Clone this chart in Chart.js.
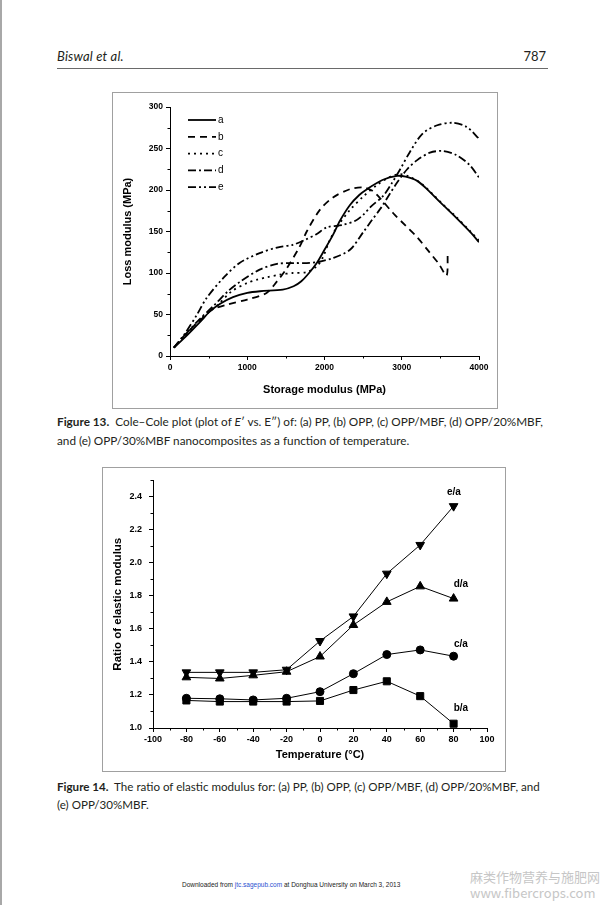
<!DOCTYPE html>
<html><head><meta charset="utf-8">
<script src="https://cdn.jsdelivr.net/npm/chart.js@4.4.0/dist/chart.umd.min.js"></script>
<style>
html,body{margin:0;padding:0;background:#fff;}
body{width:603px;height:905px;position:relative;overflow:hidden;font-family:Lato,"Open Sans",sans-serif;color:#231f20;}
.abs{position:absolute;white-space:nowrap;}
#edge{left:0;top:0;width:2px;height:905px;background:#a8a8a8;}
#hdrL{left:57px;top:48px;font-style:italic;font-size:13px;letter-spacing:0.2px;}
#hdrR{left:500px;width:46px;text-align:right;top:48px;font-size:13px;}
#rule{left:57px;top:68px;width:491px;height:1px;background:#6a6a6a;}
.box{border:1px solid #a0a0a0;box-sizing:border-box;}
#box1{left:112px;top:92px;width:386px;height:317px;}
#box2{left:102px;top:467px;width:404px;height:305px;}
#c1{left:113px;top:93px;}
#c2{left:103px;top:468px;}
.cap{left:57px;font-size:11.75px;line-height:19px;}
#cap1{top:412px;}
#cap2{top:778px;line-height:18px;font-size:11.6px;}
.cap b{font-weight:700;}
#foot{left:182px;top:881px;font-family:"Liberation Sans",Arial,sans-serif;font-size:6.5px;color:#222;}
#foot span{color:#2b4fd0;}
#wm{left:470px;top:869px;font-family:"Noto Sans CJK SC","Liberation Sans",sans-serif;font-size:13px;line-height:16px;color:#c6c6c6;}
</style></head>
<body>
<div id="edge" class="abs"></div>
<div id="hdrL" class="abs">Biswal et al.</div>
<div id="hdrR" class="abs">787</div>
<div id="rule" class="abs"></div>
<div id="box1" class="abs box"></div>
<div id="box2" class="abs box"></div>
<canvas id="c1" class="abs" width="384" height="315"></canvas>
<canvas id="c2" class="abs" width="402" height="303"></canvas>
<div id="cap1" class="abs cap"><b>Figure 13.</b>&nbsp; Cole–Cole plot (plot of <i>E</i>′ vs. E″) of: (a) PP, (b) OPP, (c) OPP/MBF, (d) OPP/20%MBF,<br>and (e) OPP/30%MBF nanocomposites as a function of temperature.</div>
<div id="cap2" class="abs cap"><b>Figure 14.</b>&nbsp; The ratio of elastic modulus for: (a) PP, (b) OPP, (c) OPP/MBF, (d) OPP/20%MBF, and<br>(e) OPP/30%MBF.</div>
<div id="foot" class="abs">Downloaded from <span>jtc.sagepub.com</span> at Donghua University on March 3, 2013</div>
<div id="wm" class="abs">麻类作物营养与施肥网<br>www.fibercrops.com</div>
<script>
// ---------- Figure 13 data: [storage modulus, loss modulus] (MPa) ----------
const curveA = [[50,10],[200,23],[400,42],[520,54],[650,63],[815,71],[1000,76],[1165,78],[1460,80],[1600,84],[1700,90],[1800,100],[1900,112],[2000,128],[2110,146],[2200,163],[2330,182],[2450,194],[2550,201],[2750,212],[2940,217],[3050,216],[3200,211],[3350,199],[3500,185],[3700,167],[3900,148],[4000,137]];
const curveB = [[50,10],[200,26],[400,44],[550,56],[740,62],[1000,68],[1250,76],[1385,90],[1500,104],[1680,132],[1770,150],[1940,176],[2110,191],[2330,201],[2500,203],[2620,199],[2720,190],[2890,172],[3050,157],[3200,143],[3350,126],[3480,111],[3580,97],[3595,125]];
const curveC = [[50,10],[200,25],[400,45],[600,60],[800,78],[1000,88],[1130,92],[1260,95],[1420,98],[1590,100],[1770,101],[1900,108],[1980,119],[2060,138],[2160,155],[2330,176],[2500,192],[2680,206],[2850,216],[2980,219],[3100,216],[3250,208],[3400,195],[3550,181],[3700,168],[3900,149],[4000,139]];
const curveD = [[50,10],[200,26],[400,46],[560,60],[750,78],[900,89],[1160,104],[1385,111],[1600,112],[1770,112],[1900,113],[2110,118],[2330,128],[2500,149],[2600,162],[2720,177],[2850,196],[2940,209],[3070,225],[3200,236],[3365,245],[3530,247],[3710,242],[3880,230],[4000,215]];
const curveE = [[50,10],[200,28],[350,50],[475,70],[700,95],[900,112],[1160,124],[1400,131],[1590,134],[1750,140],[1900,147],[2030,155],[2240,158],[2400,163],[2500,170],[2600,180],[2760,193],[2870,208],[2980,225],[3100,245],[3270,268],[3460,278],[3660,281],[3840,276],[3985,263],[4000,260]];
const coleLabels = ['a','b','c','d','e'];

// ---------- Figure 14 data ----------
const temps = [-80,-60,-40,-20,0,20,40,60,80];
const ratioBA = [1.167,1.160,1.160,1.160,1.164,1.230,1.283,1.193,1.026];
const ratioCA = [1.180,1.177,1.170,1.180,1.220,1.329,1.445,1.473,1.435];
const ratioDA = [1.307,1.300,1.319,1.341,1.433,1.624,1.764,1.858,1.784];
const ratioEA = [1.337,1.337,1.337,1.353,1.527,1.676,1.935,2.109,2.344];
const ratioLabels = ['b/a','c/a','d/a','e/a'];

const F = "'Liberation Sans', Arial, sans-serif";

const minorTicks = {
  id:'minorTicks',
  afterDraw(chart){
    const ctx = chart.ctx;
    ctx.save();
    ctx.strokeStyle = '#000'; ctx.lineWidth = 1;
    Object.values(chart.scales).forEach(s=>{
      const m = s.options.minorStep; if(!m) return;
      const n = Math.round((s.max - s.min)/m);
      for(let i=0;i<=n;i++){
        if(i % 2 === 0) continue;
        const v = s.min + i*m;
        const p = Math.round(s.getPixelForValue(v)) + 0.5;
        ctx.beginPath();
        if(s.isHorizontal()){ ctx.moveTo(p, s.top); ctx.lineTo(p, s.top+2.5); }
        else { ctx.moveTo(s.right, p); ctx.lineTo(s.right-2.5, p); }
        ctx.stroke();
      }
    });
    ctx.restore();
  }
};

function axis(opts){
  return Object.assign({
    type:'linear',
    border:{display:true,color:'#000',width:1},
    grid:{display:true,drawOnChartArea:false,drawTicks:true,tickLength:4,tickColor:'#000',tickWidth:1},
  }, opts);
}

// ---------- Chart 1 ----------
const dashes = [[],[7,5],[2,4],[8,3,2,3],[8,3,2,3,2,3]];
const coleSets = [curveA,curveB,curveC,curveD,curveE].map((c,i)=>({
  label: coleLabels[i],
  data: c.map(p=>({x:p[0],y:p[1]})),
  borderColor:'#000', borderWidth:1.8, borderDash:dashes[i],
  pointRadius:0, tension:0.3, fill:false
}));

const coleLegend = {
  id:'coleLegend',
  afterDraw(chart){
    const ctx = chart.ctx, a = chart.chartArea;
    ctx.save();
    chart.data.datasets.forEach((d,i)=>{
      const y = a.top + 13 + i*16.8;
      ctx.strokeStyle='#000'; ctx.lineWidth=1.8; ctx.setLineDash(d.borderDash);
      ctx.beginPath(); ctx.moveTo(a.left+18, y); ctx.lineTo(a.left+46, y); ctx.stroke();
      ctx.setLineDash([]);
      ctx.fillStyle='#000'; ctx.font = "10px "+F; ctx.textBaseline='middle'; ctx.textAlign='left';
      ctx.fillText(d.label, a.left+48, y);
    });
    ctx.restore();
  }
};

new Chart(document.getElementById('c1'), {
  type:'line',
  data:{datasets:coleSets},
  plugins:[minorTicks, coleLegend],
  options:{
    responsive:false, animation:false,
    layout:{padding:{left:0,right:18,top:14,bottom:0}},
    plugins:{legend:{display:false},tooltip:{enabled:false}},
    scales:{
      x: axis({min:0,max:4000,minorStep:500,
        ticks:{stepSize:1000,padding:3,color:'#000',font:{family:F,size:8.5,weight:'bold'},maxRotation:0,callback:v=>String(v)},
        title:{display:true,text:'Storage modulus (MPa)',color:'#000',font:{family:F,size:11,weight:'bold'},padding:{top:0,bottom:11}},
        afterFit(s){s.height=52;}}),
      y: axis({min:0,max:300,minorStep:25,
        ticks:{stepSize:50,padding:3,color:'#000',font:{family:F,size:8.5,weight:'bold'},callback:v=>String(v)},
        title:{display:true,text:'Loss modulus (MPa)',color:'#000',font:{family:F,size:11,weight:'bold'},padding:{top:8.4,bottom:0}},
        afterFit(s){s.width=57;}})
    }
  }
});

// ---------- Chart 2 ----------
const ratioLabelPos = [[84.4,1.12],[84.4,1.51],[84.4,1.87],[80.2,2.43]];
const ratioText = {
  id:'ratioText',
  afterDraw(chart){
    const ctx = chart.ctx, xs = chart.scales.x, ys = chart.scales.y;
    ctx.save();
    ctx.fillStyle='#000'; ctx.font="bold 10px "+F; ctx.textAlign='center'; ctx.textBaseline='middle';
    ratioLabels.forEach((t,i)=>{
      ctx.fillText(t, xs.getPixelForValue(ratioLabelPos[i][0]), ys.getPixelForValue(ratioLabelPos[i][1]));
    });
    ctx.restore();
  }
};
const styles = [['rect',5,0],['circle',4,0],['triangle',5,0],['triangle',5,180]];
const ratioSets = [ratioBA,ratioCA,ratioDA,ratioEA].map((r,i)=>({
  label: ratioLabels[i],
  data: temps.map((t,j)=>({x:t,y:r[j]})),
  borderColor:'#000', borderWidth:1, backgroundColor:'#000',
  pointStyle:styles[i][0], pointRadius:styles[i][1], pointRotation:styles[i][2],
  pointBorderWidth:1, tension:0, fill:false
}));

new Chart(document.getElementById('c2'), {
  type:'line',
  data:{datasets:ratioSets},
  plugins:[minorTicks, ratioText],
  options:{
    responsive:false, animation:false,
    layout:{padding:{left:0,right:18,top:10,bottom:0}},
    plugins:{legend:{display:false},tooltip:{enabled:false}},
    scales:{
      x: axis({min:-100,max:100,minorStep:10,
        ticks:{stepSize:20,padding:2,color:'#000',font:{family:F,size:9,weight:'bold'},maxRotation:0,autoSkip:false,callback:v=>String(v)},
        title:{display:true,text:'Temperature (°C)',color:'#000',font:{family:F,size:11,weight:'bold'},padding:{top:0,bottom:9.4}},
        afterFit(s){s.height=43;}}),
      y: axis({min:1.0,max:2.5,minorStep:0.1,
        ticks:{stepSize:0.2,includeBounds:false,padding:7,color:'#000',font:{family:F,size:9,weight:'bold'},callback:v=>v.toFixed(1)},
        title:{display:true,text:'Ratio of elastic modulus',color:'#000',font:{family:F,size:11.5,weight:'bold'},padding:{top:8.4,bottom:0}},
        afterFit(s){s.width=50;}})
    }
  }
});
</script>
</body></html>
